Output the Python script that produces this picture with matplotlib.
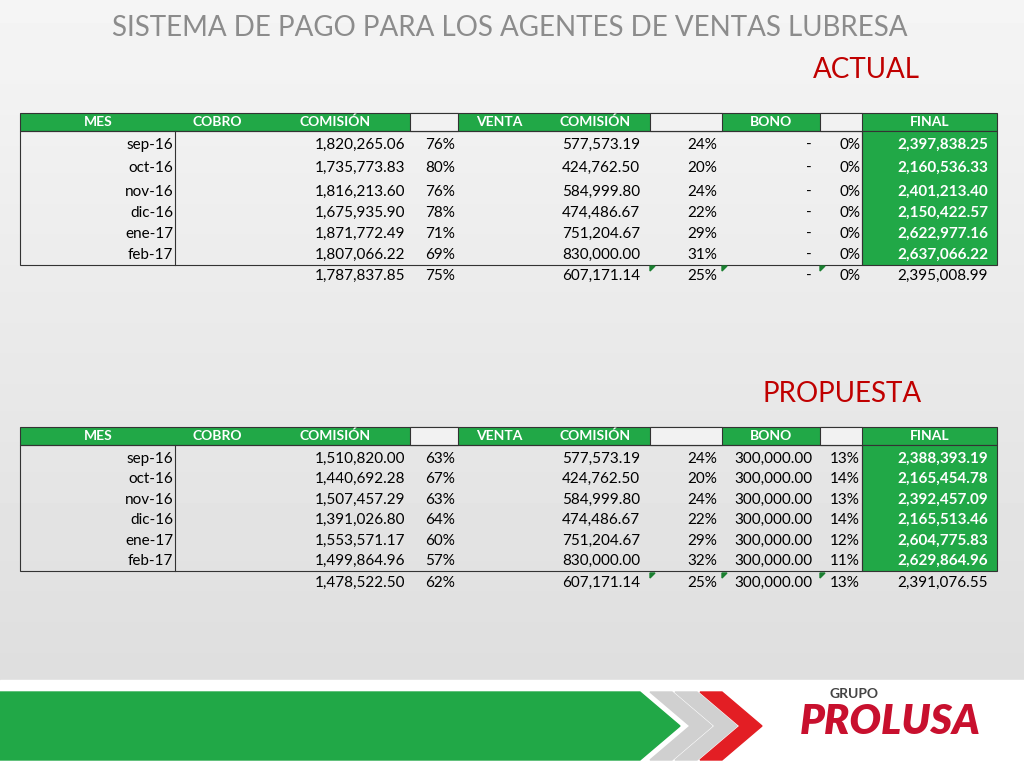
import numpy as np
import matplotlib.pyplot as plt
from matplotlib.patches import Rectangle, Polygon

plt.rcParams['font.family'] = 'Lato'

meses = ['sep-16', 'oct-16', 'nov-16', 'dic-16', 'ene-17', 'feb-17']
headers = ['MES', 'COBRO', 'COMISIÓN', '', 'VENTA', 'COMISIÓN', '', 'BONO', '', 'FINAL']

act_cobro = ['1,820,265.06', '1,735,773.83', '1,816,213.60', '1,675,935.90', '1,871,772.49', '1,807,066.22']
act_cobro_pct = ['76%', '80%', '76%', '78%', '71%', '69%']
act_venta = ['577,573.19', '424,762.50', '584,999.80', '474,486.67', '751,204.67', '830,000.00']
act_venta_pct = ['24%', '20%', '24%', '22%', '29%', '31%']
act_bono = ['-'] * 6
act_bono_pct = ['0%'] * 6
act_final = ['2,397,838.25', '2,160,536.33', '2,401,213.40', '2,150,422.57', '2,622,977.16', '2,637,066.22']
act_total = ['1,787,837.85', '75%', '607,171.14', '25%', '-', '0%', '2,395,008.99']

pro_cobro = ['1,510,820.00', '1,440,692.28', '1,507,457.29', '1,391,026.80', '1,553,571.17', '1,499,864.96']
pro_cobro_pct = ['63%', '67%', '63%', '64%', '60%', '57%']
pro_venta = act_venta
pro_venta_pct = ['24%', '20%', '24%', '22%', '29%', '32%']
pro_bono = ['300,000.00'] * 6
pro_bono_pct = ['13%', '14%', '13%', '14%', '12%', '11%']
pro_final = ['2,388,393.19', '2,165,454.78', '2,392,457.09', '2,165,513.46', '2,604,775.83', '2,629,864.96']
pro_total = ['1,478,522.50', '62%', '607,171.14', '25%', '300,000.00', '13%', '2,391,076.55']

GREEN = '#21a847'
fig = plt.figure(figsize=(10.24, 7.68), dpi=100)
ax = fig.add_axes([0, 0, 1, 1])
ax.set_xlim(0, 1024)
ax.set_ylim(768, 0)
ax.axis('off')

# background gradient
grad = np.linspace(0.96, 0.86, 200)[:, None] * np.ones((1, 10))
ax.imshow(grad, cmap='gray', vmin=0, vmax=1, extent=[0, 1024, 768, 0], aspect='auto', zorder=0)
ax.add_patch(Rectangle((0, 680), 1024, 88, color='white', zorder=1))

ax.text(510, 28, 'SISTEMA DE PAGO PARA LOS AGENTES DE VENTAS LUBRESA', ha='center', va='center',
        fontsize=20, color='#8c8c8c', zorder=3)
ax.text(920, 70, 'ACTUAL', ha='right', va='center', fontsize=20, color='#c00000', zorder=3)
ax.text(922, 394, 'PROPUESTA', ha='right', va='center', fontsize=20, color='#c00000', zorder=3)

col_edges = [20, 175, 260, 410, 458, 540, 650, 722, 820, 862, 997]
head_x = [98, 217, 335, None, 499, 595, None, 771, None, 930]
right_x = [405, 455, 640, 717, 812, 860, 988]


def table(y0, rows_y, tot_y, cobro, cpct, venta, vpct, bono, bpct, final, total):
    ax.add_patch(Rectangle((20, y0), 977, 18, facecolor=GREEN, edgecolor='#333333', lw=0.8, zorder=2))
    for i in range(len(col_edges) - 1):
        x0, x1 = col_edges[i], col_edges[i + 1]
        if headers[i] == '':
            ax.add_patch(Rectangle((x0, y0), x1 - x0, 18, facecolor='#f2f2f2',
                                   edgecolor='#333333', lw=0.8, zorder=2))
        else:
            ax.text(head_x[i], y0 + 9, headers[i], ha='center', va='center', fontsize=10,
                    color='white', fontweight='bold', zorder=3)
    top = y0 + 18
    bot = rows_y[-1] + 10
    ax.add_patch(Rectangle((20, top), 842, bot - top, facecolor='none', edgecolor='#333333', lw=0.8, zorder=3))
    ax.plot([175, 175], [top, bot], color='#333333', lw=0.8, zorder=3)
    ax.add_patch(Rectangle((862, top), 135, bot - top, facecolor=GREEN, edgecolor='#333333', lw=0.8, zorder=2))
    for k, y in enumerate(rows_y):
        ax.text(173, y, meses[k], ha='right', va='center', fontsize=11, zorder=3)
        vals = [cobro[k], cpct[k], venta[k], vpct[k], bono[k], bpct[k]]
        for v, x in zip(vals, right_x[:6]):
            ax.text(x, y, v, ha='right', va='center', fontsize=11, zorder=3)
        ax.text(right_x[6], y, final[k], ha='right', va='center', fontsize=11,
                color='white', fontweight='bold', zorder=3)
    for v, x in zip(total, right_x):
        ax.text(x, tot_y, v, ha='right', va='center', fontsize=11, zorder=3)
    for x in (650, 722, 820):
        ax.add_patch(Polygon([[x, tot_y - 10], [x + 5, tot_y - 10], [x, tot_y - 5]], color='#1a7f30', zorder=3))


table(113, [145, 168, 192, 213, 234, 255], 276, act_cobro, act_cobro_pct, act_venta, act_venta_pct,
      act_bono, act_bono_pct, act_final, act_total)
table(427, [459, 479, 500, 520, 541, 561], 583, pro_cobro, pro_cobro_pct, pro_venta, pro_venta_pct,
      pro_bono, pro_bono_pct, pro_final, pro_total)

# footer band
ax.add_patch(Polygon([[0, 692], [640, 692], [680, 726], [640, 760], [0, 760]], color=GREEN, zorder=2))
for dx, c in ((0, '#d0d0d0'), (25, '#d0d0d0'), (50, '#e31e24')):
    ax.add_patch(Polygon([[650 + dx, 692], [672 + dx, 692], [712 + dx, 726], [672 + dx, 760],
                          [650 + dx, 760], [690 + dx, 726]], color=c, zorder=2))
ax.text(830, 694, 'GRUPO', ha='left', va='center', fontsize=10, fontweight='bold', color='#444444', zorder=3)
ax.text(890, 722, 'PROLUSA', ha='center', va='center', fontsize=30, fontweight='heavy',
        fontstyle='italic', color='#c8102e', zorder=3)

fig.savefig('out.png', dpi=100)
